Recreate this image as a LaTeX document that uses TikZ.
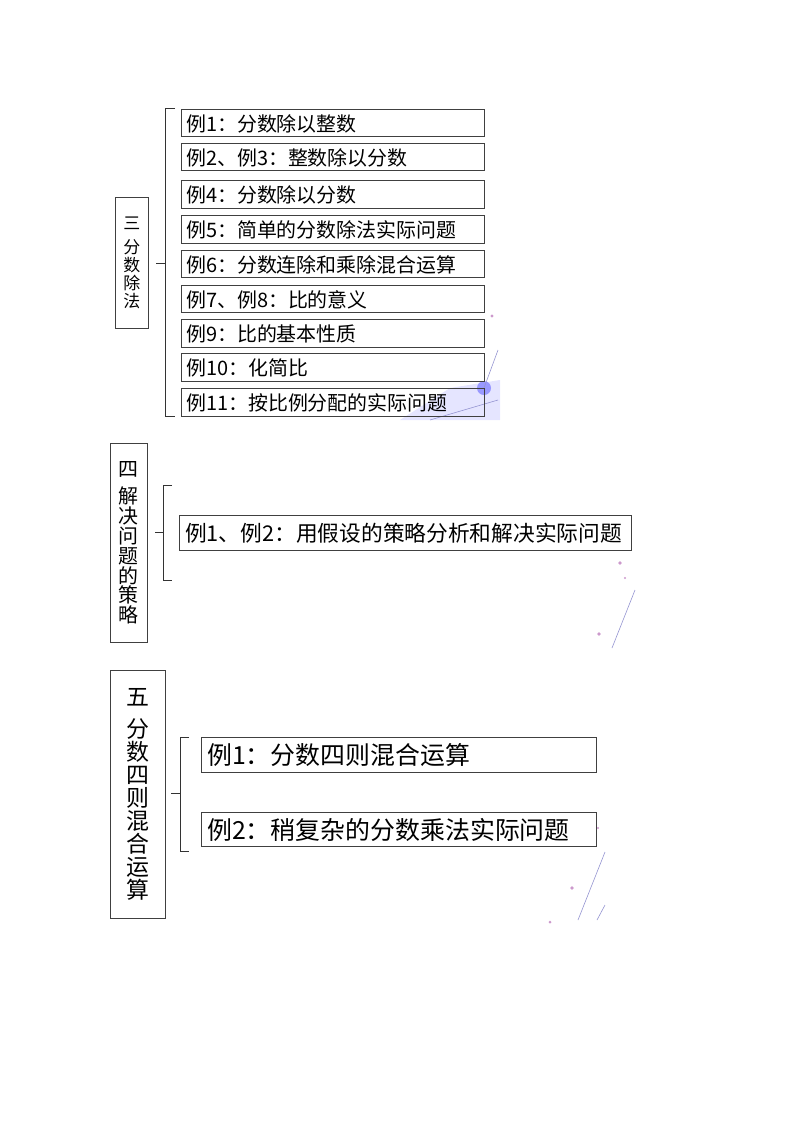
\documentclass[tikz,border=0pt]{standalone}
\usepackage{fontspec}
\setmainfont{Liberation Serif}
\newfontfamily\cjk{Noto Sans CJK SC}
\begin{document}
\begin{tikzpicture}[x=1bp,y=-1bp,
  item/.style={draw=black!75,line width=0.8pt,anchor=north west,inner sep=0pt,outer sep=0pt},
  title/.style={draw=black!75,line width=0.8pt,anchor=north west,inner sep=0pt,align=center},
  brace/.style={line width=0.9pt,black!80},
  deco/.style={line width=0.6pt,blue!40!gray!60},
  dot/.style={fill=violet!40}]
\useasboundingbox (0,0) rectangle (794,1123);
% decorations
\fill[blue!10] (450,388) -- (500,380) -- (500,420) -- (400,420) -- cycle;
\fill[blue!40] (484,388) circle (7);
\draw[deco] (484,388) -- (498,350);
\draw[deco] (430,420) -- (498,400);
\fill[dot] (492,316) circle (1.6);
\fill[dot] (620,563) circle (1.8);
\fill[dot] (625,578) circle (1.2);
\fill[dot] (599,634) circle (1.8);
\draw[deco] (612,648) -- (635,590);
\fill[dot] (598,828) circle (1.2);
\fill[dot] (572,888) circle (1.8);
\fill[dot] (550,922) circle (1.5);
\draw[deco] (578,920) -- (605,852);
\draw[deco] (597,920) -- (605,905);
% section 3
\node[title,minimum width=33bp,minimum height=131bp,font=\cjk\fontsize{17}{21}\selectfont] (t3) at (115,197) {三\\[3pt]分\\[-3pt]数\\[-3pt]除\\[-3pt]法};
\draw[brace] (175,108) -- (165,108) -- (165,416) -- (175,416);
\coordinate (b3) at (165,263);
\draw[brace] (b3) -- ++(-9,0);
\foreach \i/\y/\h/\txt in {a/109/27/{例1：分数除以整数},b/143/27/{例2、例3：整数除以分数},c/180/28/{例4：分数除以分数},d/215/28/{例5：简单的分数除法实际问题},e/250/27/{例6：分数连除和乘除混合运算},f/285/27/{例7、例8：比的意义},g/319/28/{例9：比的基本性质},h/353/28/{例10：化简比},i/388/28/{例11：按比例分配的实际问题}}{
  \node[item,minimum width=303bp,minimum height=\h bp] (s3\i) at (181,\y) {};
  \node[anchor=west,inner sep=0pt,font=\cjk\fontsize{20}{20}\selectfont] at ([xshift=5bp,yshift=-1bp]s3\i.west) {\txt};
}
% section 4
\node[title,minimum width=37bp,minimum height=199bp,font=\cjk\fontsize{20}{24}\selectfont] (t4) at (110,443) {四\\[3pt]解\\[-4pt]决\\[-4pt]问\\[-4pt]题\\[-4pt]的\\[-4pt]策\\[-4pt]略};
\draw[brace] (172,485) -- (163,485) -- (163,580) -- (172,580);
\coordinate (b4) at (163,532);
\draw[brace] (b4) -- ++(-8,0);
\node[item,minimum width=452bp,minimum height=35bp] (s4a) at (179,515) {};
\node[anchor=west,inner sep=0pt,font=\cjk\fontsize{21.8}{22}\selectfont] at ([xshift=6bp,yshift=-1bp]s4a.west) {例1、例2：用假设的策略分析和解决实际问题};
% section 5
\node[title,minimum width=55bp,minimum height=248bp,font=\cjk\fontsize{23}{27}\selectfont] (t5) at (110,670) {五\\[5pt]分\\[-4pt]数\\[-4pt]四\\[-4pt]则\\[-4pt]混\\[-4pt]合\\[-4pt]运\\[-4pt]算};
\draw[brace] (189,737) -- (180,737) -- (180,851) -- (189,851);
\coordinate (b5) at (180,793);
\draw[brace] (b5) -- ++(-9,0);
\node[item,minimum width=395bp,minimum height=35bp] (s5a) at (201,737) {};
\node[anchor=west,inner sep=0pt,font=\cjk\fontsize{25}{25}\selectfont] at ([xshift=6bp,yshift=-1bp]s5a.west) {例1：分数四则混合运算};
\node[item,minimum width=395bp,minimum height=34bp] (s5b) at (201,812) {};
\node[anchor=west,inner sep=0pt,font=\cjk\fontsize{25}{25}\selectfont] at ([xshift=6bp,yshift=-1bp]s5b.west) {例2：稍复杂的分数乘法实际问题};
\end{tikzpicture}
\end{document}
